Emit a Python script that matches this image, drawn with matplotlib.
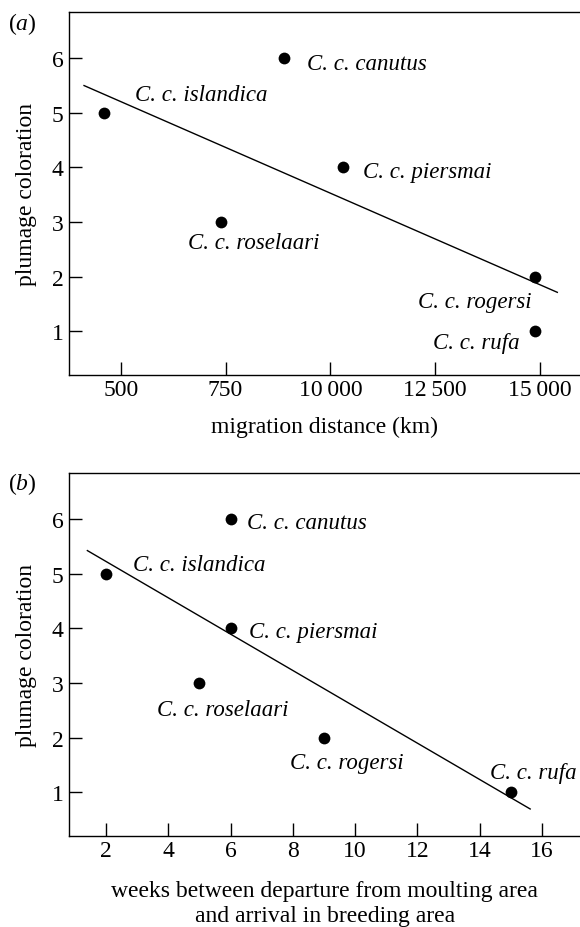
import matplotlib
matplotlib.use("Agg")
import matplotlib.pyplot as plt

plt.rcParams['font.family'] = ['Liberation Serif', 'DejaVu Serif']
plt.rcParams['mathtext.fontset'] = 'custom'
plt.rcParams['mathtext.rm'] = 'Liberation Serif'
plt.rcParams['mathtext.it'] = 'Liberation Serif:italic'

# data
species = ['C. c. islandica', 'C. c. canutus', 'C. c. roselaari',
           'C. c. piersmai', 'C. c. rogersi', 'C. c. rufa']
plumage = [5, 6, 3, 4, 2, 1]
distance_km = [4600, 8900, 7400, 10300, 14880, 14880]
weeks = [2, 6, 5, 6, 9, 15]

# regression lines (end points)
dist_fit_x = [4125, 15413]
dist_fit_y = [5.5, 1.714]
weeks_fit_x = [1.4, 15.62]
weeks_fit_y = [5.425, 0.694]

dist_ticks = [5000, 7500, 10000, 12500, 15000]
dist_ticklabels = ['500', '750', '10\u2009000', '12\u2009500', '15\u2009000']
weeks_ticks = [2, 4, 6, 8, 10, 12, 14, 16]

# label offsets (points) and alignment for each species
offs_a = [(22.3, 9.1), (16.3, -7.9), (-24.3, -18.4), (14.4, -7.2), (-2.4, -21.6), (-11.3, -12.0)]
ha_a = ['left', 'left', 'left', 'left', 'right', 'right']
offs_b = [(19.7, 2.7), (12, -6.7), (-30.7, -22.8), (13.2, -6.0), (-24.7, -21.6), (-15.1, 10.1)]
ha_b = ['left'] * 6

fig = plt.figure(figsize=(5.8, 9.28), dpi=100)
ax_a = fig.add_axes([0.1195, 0.5951, 0.8805, 0.3905])
ax_b = fig.add_axes([0.1195, 0.0984, 0.8805, 0.3905])


def style(ax):
    for side in ['left', 'bottom', 'top']:
        ax.spines[side].set_linewidth(1.0)
    ax.spines['right'].set_visible(False)
    ax.tick_params(direction='in', length=9.5, width=1.0, labelsize=17,
                   top=False, right=False)
    ax.tick_params(axis='x', pad=3)
    ax.tick_params(axis='y', pad=4)
    ax.set_ylim(0.205, 6.84)
    ax.set_yticks([1, 2, 3, 4, 5, 6])
    ax.set_ylabel('plumage coloration', fontsize=17, va='center')
    ax.yaxis.set_label_coords(-0.0848, 0.5)


def draw(ax, x, fx, fy, offs, has):
    ax.plot(fx, fy, color='black', lw=1.0)
    ax.scatter(x, plumage, s=72, color='black', zorder=3, linewidths=0)
    for xi, yi, name, o, h in zip(x, plumage, species, offs, has):
        ax.annotate(name, (xi, yi), xytext=o, textcoords='offset points',
                    ha=h, va='baseline', fontsize=16.5, style='italic')


# (a) migration distance
style(ax_a)
draw(ax_a, distance_km, dist_fit_x, dist_fit_y, offs_a, ha_a)
ax_a.set_xlim(3774, 15954)
ax_a.set_xticks(dist_ticks)
ax_a.set_xticklabels(dist_ticklabels)
ax_a.set_xlabel('migration distance (km)', fontsize=17, va='baseline')
ax_a.xaxis.set_label_coords(0.5, -0.158)

# (b) weeks between moult and breeding
style(ax_b)
draw(ax_b, weeks, weeks_fit_x, weeks_fit_y, offs_b, ha_b)
ax_b.set_xlim(0.82, 17.22)
ax_b.set_xticks(weeks_ticks)
ax_b.set_xlabel('weeks between departure from moulting area\nand arrival in breeding area',
                fontsize=17, va='top', linespacing=1.23)
ax_b.xaxis.set_label_coords(0.5, -0.123)

# panel letters
fig.text(8 / 580, 1 - 30 / 928, r'($\mathit{a}$)', fontsize=17, va='baseline', ha='left')
fig.text(8 / 580, 1 - 490 / 928, r'($\mathit{b}$)', fontsize=17, va='baseline', ha='left')

fig.savefig('out.png', dpi=100)
